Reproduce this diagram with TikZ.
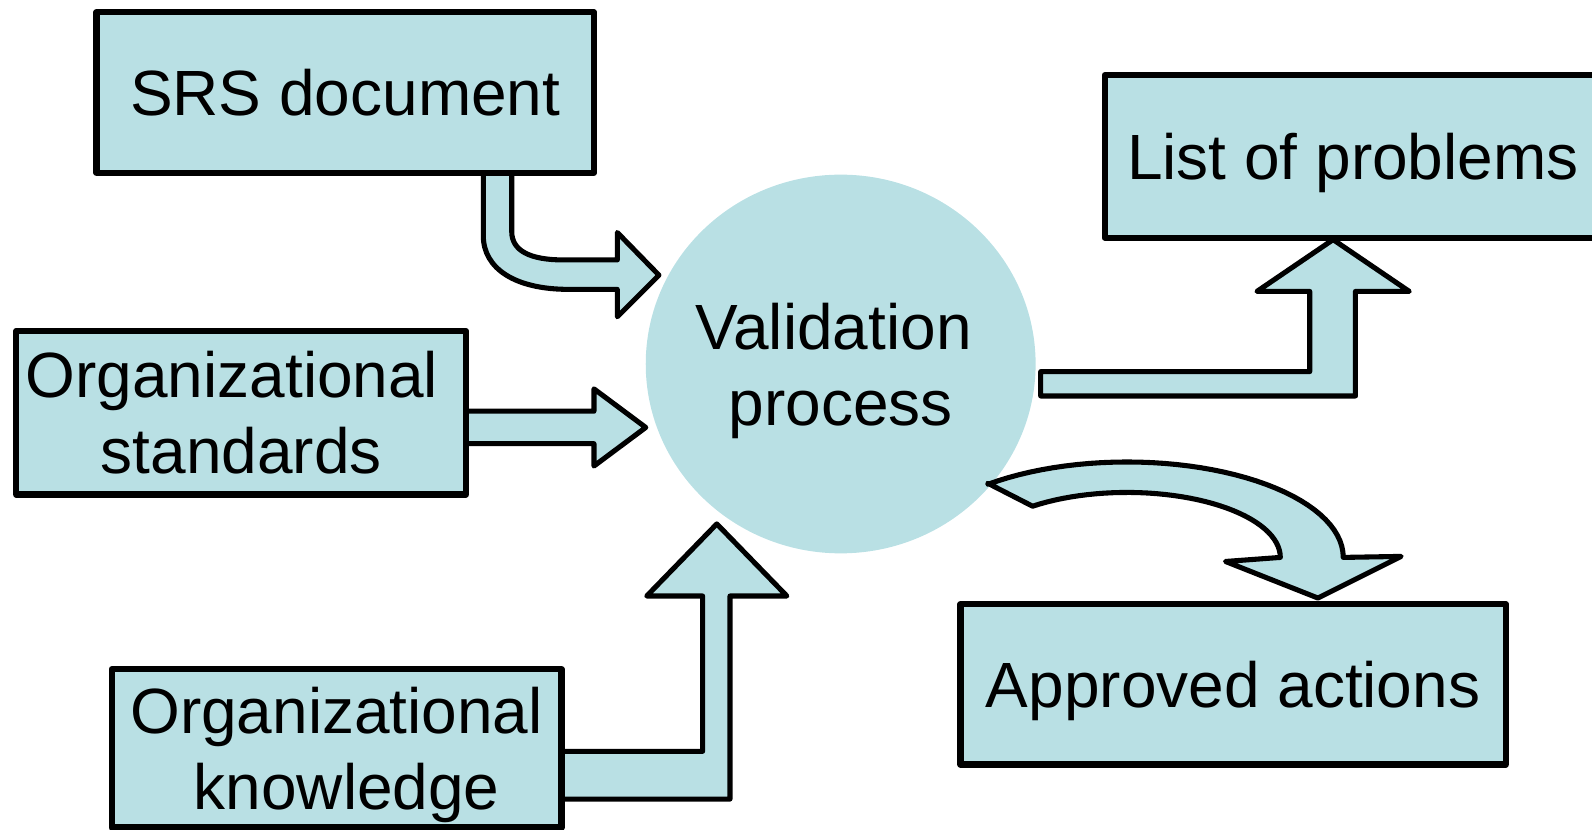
\documentclass[tikz,border=0pt]{standalone}
\usepackage{fontspec}
\setmainfont{Liberation Sans}
\usetikzlibrary{shapes.geometric}

\begin{document}
\begin{tikzpicture}[x=1pt,y=-1pt]
  \definecolor{paleblue}{RGB}{185,224,228}
  \tikzset{
    box/.style={draw,fill=paleblue,line width=6pt,line join=round,
      inner sep=0pt,align=center,text depth=0pt,
      font=\fontsize{63}{75}\selectfont},
    blob/.style={ellipse,fill=paleblue,inner sep=0pt,align=center,
      text depth=0pt,font=\fontsize{63}{75}\selectfont},
    fatarrow/.style={draw,fill=paleblue,line width=5pt,line join=round}
  }
  \useasboundingbox (0,0) rectangle (1568,817);
  \clip (0,0) rectangle (1568,817);

  \node[blob,minimum width=384,minimum height=373] (val) at (828,358.5)
    {\kern-14pt Validation\\process};

  % block arrows
  \filldraw[fatarrow] (476,168) -- (476,232)
    .. controls (476,265) and (508,285) .. (560,285) -- (608,285)
    -- (608,312) -- (649,271) -- (608,229) -- (608,256) -- (555,256)
    .. controls (522,256) and (504,247) .. (504,228) -- (504,168) -- cycle;
  \filldraw[fatarrow] (455,405) -- (585,405) -- (585,383) -- (636,421)
    -- (585,459) -- (585,437) -- (455,437) -- cycle;
  \filldraw[fatarrow] (550,740) -- (692,740) -- (692,587) -- (637,587)
    -- (706,516) -- (775,587) -- (719,587) -- (719,787) -- (550,787) -- cycle;
  \filldraw[fatarrow] (1025,366) -- (1290,366) -- (1290,287) -- (1238,287)
    -- (1313,236) -- (1388,287) -- (1335,287) -- (1335,390) -- (1025,390) -- cycle;
  \filldraw[fatarrow] (973,476)
    -- plot[domain=130:0,samples=40] ({1110+213*cos(\x)},{549-94*sin(\x)})
    -- (1380,548) -- (1298,589) -- (1207,553)
    -- plot[domain=0:128,samples=40] ({1110+151*cos(\x)},{549-64*sin(\x)})
    -- cycle;

  \node[box,minimum width=490,minimum height=158] (srs) at (340,91)
    {SRS document};
  \node[box,minimum width=489,minimum height=160] (list) at (1332.5,154)
    {List of problems};
  \node[box,minimum width=443,minimum height=161] (std) at (237.5,406.5)
    {Organizational\kern18pt\\standards};
  \node[box,minimum width=443,minimum height=156] (know) at (331.5,737)
    {Organizational\\\kern20pt knowledge};
  \node[box,minimum width=537,minimum height=158] (ok) at (1214.5,674)
    {Approved actions};
\end{tikzpicture}
\end{document}
